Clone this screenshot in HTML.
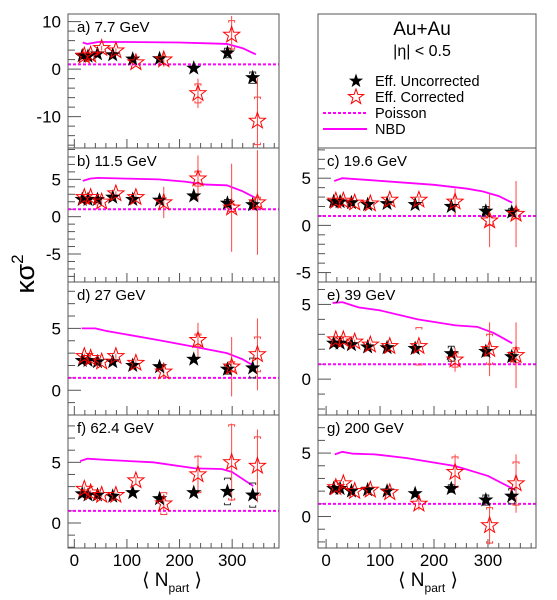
<!DOCTYPE html>
<html><head><meta charset="utf-8"><style>
html,body{margin:0;padding:0;background:#fff;}
svg{display:block;font-family:"Liberation Sans",sans-serif;}
</style></head><body>
<svg id="chart" width="557" height="600" viewBox="0 0 557 600" xmlns="http://www.w3.org/2000/svg">
<text transform="translate(34,274) rotate(-90)" text-anchor="middle" font-size="27">κσ<tspan font-size="17" dy="-11">2</tspan></text>
<g>
<rect x="318" y="14" width="218" height="134" fill="none" stroke="#555" stroke-width="1"/>
<text x="422" y="35" text-anchor="middle" font-size="19">Au+Au</text>
<text x="422" y="56" text-anchor="middle" font-size="16">|η| &lt; 0.5</text>
<g><path id="lgs1" fill="#000"/><text x="375" y="86" font-size="14.5">Eff. Uncorrected</text></g>
<g><path id="lgs2" fill="none" stroke="#f00"/><text x="375" y="102" font-size="14.5">Eff. Corrected</text></g>
<g><line x1="323" y1="113" x2="367" y2="113" stroke="#f0f" stroke-width="2" stroke-dasharray="3,2"/><text x="375" y="118" font-size="14.5">Poisson</text></g>
<g><line x1="323" y1="129" x2="367" y2="129" stroke="#f0f" stroke-width="2"/><text x="375" y="134" font-size="14.5">NBD</text></g>
</g>
<g id="panels"></g>
<text x="172" y="586" text-anchor="middle" font-size="19">⟨ N<tspan font-size="12" dy="6">part</tspan><tspan dy="-6"> ⟩</tspan></text>
<text x="428" y="586" text-anchor="middle" font-size="19">⟨ N<tspan font-size="12" dy="6">part</tspan><tspan dy="-6"> ⟩</tspan></text>
</svg>
<script>
// ---- data ----
const leftBlackN=[15,26,44,73,111,162,227,291,339];
const leftRedN=[19,31,52,79,117,170,235,299,348];
const rightBlackN=[14,26,47,77,113,165,232,296,344];
const rightRedN=[18,32,53,82,118,172,239,303,352];
const poissonValue=1;

const aBlack=[2.8,2.7,3.2,3.0,2.1,2.2,0.2,3.4,-1.8];
const aRed=[2.8,3.0,4.4,3.9,1.4,2.0,-5.1,7.2,-10.9];
const aRedErr=[0.3,0.3,0.5,0.5,0.6,1.5,3.1,4.0,9.0];
const aRedSys=[0,0,0,0,0,0,2.0,3.0,5.0];
const aBlackSys=[0,0,0,0,0,0,0,1.0,1.2];
const aNbdN=[16,25,45,100,200,260,290,320,345];
const aNbdV=[5.6,5.3,5.7,5.7,5.6,5.4,5.3,4.4,3.1];

const bBlack=[2.3,2.3,2.3,2.6,2.3,2.2,2.77,1.8,1.6];
const bRed=[2.6,2.6,2.0,3.1,2.6,1.9,5.1,1.2,1.9];
const bRedErr=[0.2,0.2,0.3,0.3,0.5,2.1,3.1,5.9,7.0];
const bRedSys=[0,0,0,0,0,0,1.0,0.5,0.7];
const bBlackSys=[0,0,0,0,0,0,0,0.5,0.5];
const bNbdN=[16,30,45,100,160,210,250,290,320,345];
const bNbdV=[4.8,5.1,5.2,5.1,5.0,4.7,4.3,4.2,3.4,2.5];

const cBlack=[2.5,2.5,2.4,2.2,2.3,2.2,2.0,1.5,1.4];
const cRed=[2.6,2.6,2.4,2.3,2.7,2.7,2.5,0.5,1.2];
const cRedErr=[0.2,0.2,0.2,0.2,0.3,0.4,1.4,2.8,3.5];
const cRedSys=[0,0,0,0,0,0,0,0.5,0.5];
const cBlackSys=[0,0,0,0,0,0,0,0.5,0.4];
const cNbdN=[15,30,80,200,260,290,320,345];
const cNbdV=[4.7,5.0,4.8,4.3,3.9,3.6,3.1,2.4];

const dBlack=[2.4,2.4,2.3,2.3,2.0,1.9,2.5,1.7,1.8];
const dRed=[2.75,2.6,2.3,2.75,2.2,1.5,4.05,1.9,2.9];
const dRedErr=[0.2,0.2,0.2,0.2,0.3,0.6,1.4,2.4,2.9];
const dRedSys=[0,0,0,0,0,0,0.5,0.4,1.4];
const dBlackSys=[0,0,0,0,0,0,0,0.4,0.8];
const dNbdN=[14,40,60,160,230,290,320,340];
const dNbdV=[5.0,5.0,4.8,4.05,3.5,3.0,2.5,2.0];

const eBlack=[2.4,2.4,2.3,2.15,2.1,2.05,1.7,1.85,1.5];
const eRed=[2.65,2.65,2.5,2.3,2.2,2.2,1.3,2.0,1.6];
const eRedErr=[0.15,0.15,0.15,0.15,0.2,0.3,0.8,1.8,2.2];
const eRedSys=[0,0,0,0,0,1.25,0.5,1.0,0.5];
const eBlackSys=[0,0,0,0,0,0,0.5,0.3,0.3];
const eNbdN=[12,30,60,100,170,240,280,310,345];
const eNbdV=[5.1,5.15,4.8,4.6,4.0,3.6,3.5,3.1,2.4];

const fBlack=[2.4,2.3,2.3,2.2,2.5,2.0,2.5,2.6,2.3];
const fRed=[2.8,2.5,2.3,2.3,3.5,1.6,4.0,5.0,4.7];
const fRedErr=[0.2,0.2,0.2,0.2,0.3,0.6,1.6,3.2,3.0];
const fRedSys=[0,0,0,0,0,0.9,1.5,3.1,2.4];
const fBlackSys=[0,0,0,0,0,0,0,1.1,1.0];
const fNbdN=[11,25,60,150,230,280,300,340];
const fNbdV=[5.1,5.3,5.2,5.0,4.5,4.45,4.2,3.05];

const gBlack=[2.2,2.2,2.0,2.1,2.0,1.8,2.2,1.3,1.6];
const gRed=[2.3,2.6,2.0,2.1,1.9,1.0,3.5,-0.7,2.6];
const gRedErr=[0.2,0.2,0.2,0.2,0.3,0.5,1.4,1.5,2.3];
const gRedSys=[0,0,0,0,0,0,1.2,1.4,1.7];
const gBlackSys=[0,0,0,0,0,0,0.3,0.4,0.6];
const gNbdN=[16,30,50,90,150,240,300,350];
const gNbdV=[4.9,5.1,4.95,4.9,4.6,3.97,3.2,2.1];

const xTickLabels=[0,100,200,300];

// ---- layout ----
const NS="http://www.w3.org/2000/svg";
const root=document.getElementById('panels');
function el(tag,attrs,parent){const e=document.createElementNS(NS,tag);for(const k in attrs)e.setAttribute(k,attrs[k]);(parent||root).appendChild(e);return e;}
function starPath(cx,cy,r){let d='';for(let i=0;i<10;i++){const rr=i%2?r*0.4:r;const a=-Math.PI/2+i*Math.PI/5;d+=(i?'L':'M')+(cx+rr*Math.cos(a)).toFixed(2)+','+(cy+rr*Math.sin(a)).toFixed(2);}return d+'Z';}
document.getElementById('lgs1').setAttribute('d',starPath(356,81,7.5));
document.getElementById('lgs2').setAttribute('d',starPath(356,97,8));

const panels=[
 {id:'a',label:'a) 7.7 GeV',x0:68,x1:279,y0:14,y1:148,ymin:-16.6,ymax:11.6,maj:[10,0,-10],minor:2,col:'L',black:aBlack,red:aRed,rerr:aRedErr,rsys:aRedSys,bsys:aBlackSys,nn:aNbdN,nv:aNbdV,xl:false},
 {id:'b',label:'b) 11.5 GeV',x0:68,x1:279,y0:148,y1:282,ymin:-8.75,ymax:9.2,maj:[5,0,-5],minor:1,col:'L',black:bBlack,red:bRed,rerr:bRedErr,rsys:bRedSys,bsys:bBlackSys,nn:bNbdN,nv:bNbdV,xl:false},
 {id:'c',label:'c) 19.6 GeV',x0:318,x1:536,y0:148,y1:282,ymin:-6.0,ymax:8.2,maj:[5,0,-5],minor:1,col:'R',black:cBlack,red:cRed,rerr:cRedErr,rsys:cRedSys,bsys:cBlackSys,nn:cNbdN,nv:cNbdV,xl:false},
 {id:'d',label:'d) 27 GeV',x0:68,x1:279,y0:282,y1:415,ymin:-2.0,ymax:8.75,maj:[5,0],minor:1,col:'L',black:dBlack,red:dRed,rerr:dRedErr,rsys:dRedSys,bsys:dBlackSys,nn:dNbdN,nv:dNbdV,xl:false},
 {id:'e',label:'e) 39 GeV',x0:318,x1:536,y0:282,y1:415,ymin:-2.4,ymax:6.5,maj:[5,0],minor:1,col:'R',black:eBlack,red:eRed,rerr:eRedErr,rsys:eRedSys,bsys:eBlackSys,nn:eNbdN,nv:eNbdV,xl:false},
 {id:'f',label:'f) 62.4 GeV',x0:68,x1:279,y0:415,y1:548,ymin:-2.06,ymax:8.9,maj:[5,0],minor:1,col:'L',black:fBlack,red:fRed,rerr:fRedErr,rsys:fRedSys,bsys:fBlackSys,nn:fNbdN,nv:fNbdV,xl:true},
 {id:'g',label:'g) 200 GeV',x0:318,x1:536,y0:415,y1:548,ymin:-2.48,ymax:8.0,maj:[5,0],minor:1,col:'R',black:gBlack,red:gRed,rerr:gRedErr,rsys:gRedSys,bsys:gBlackSys,nn:gNbdN,nv:gNbdV,xl:true}
];

panels.forEach(p=>{
 const xmin=p.col==='L'?-12:-15, xmax=389;
 const X=v=>p.x0+(v-xmin)/(xmax-xmin)*(p.x1-p.x0);
 const Y=v=>p.y1-(v-p.ymin)/(p.ymax-p.ymin)*(p.y1-p.y0);
 const bN=p.col==='L'?leftBlackN:rightBlackN;
 const rN=p.col==='L'?leftRedN:rightRedN;
 const g=el('g',{});
 
 
 const cp=el('clipPath',{id:'clip'+p.id},g);
 el('rect',{x:p.x0,y:p.y0,width:p.x1-p.x0,height:p.y1-p.y0},cp);
 // y ticks
 for(let v=Math.ceil(p.ymin/p.minor)*p.minor;v<=p.ymax;v+=p.minor){
  const isMaj=Math.abs(v%5)<1e-6 && (p.id!=='a'||Math.abs(v%10)<1e-6);
  el('line',{x1:p.x0,x2:p.x0+(isMaj?13:7),y1:Y(v),y2:Y(v),stroke:'#555','stroke-width':1},g);
 }
 p.maj.forEach(v=>{
  const t=el('text',{x:p.x0-7,y:Y(v)+6,'text-anchor':'end','font-size':17},g);
  t.textContent=v;
  
  
 });
 // x ticks
 for(let v=0;v<=xmax;v+=20){
  const isMaj=v%100===0;
  el('line',{x1:X(v),x2:X(v),y1:p.y1,y2:p.y1-(isMaj?9:5),stroke:'#555','stroke-width':1},g);
 }
 if(p.xl){xTickLabels.forEach(v=>{
  const t=el('text',{x:X(v),y:p.y1+18,'text-anchor':'middle','font-size':17},g);
  t.textContent=v;
  
  
 });}
 const inner=el('g',{'clip-path':'url(#clip'+p.id+')'},g);
 // poisson
 const pl=el('line',{x1:p.x0,x2:p.x1,y1:Y(poissonValue),y2:Y(poissonValue),stroke:'#f0f','stroke-width':2,'stroke-dasharray':'3,2'},inner);
 
 
 // nbd
 const nb=el('polyline',{points:p.nn.map((n,i)=>X(n)+','+Y(p.nv[i])).join(' '),fill:'none',stroke:'#f0f','stroke-width':1.8},inner);
 
 
 // sys brackets
 function bracket(x,v,s,col){if(!s)return;const y1=Y(v+s),y2=Y(v-s);
  el('path',{d:`M${x-3},${y1+2}V${y1}H${x+3}V${y1+2}M${x-3},${y2-2}V${y2}H${x+3}V${y2-2}`,fill:'none',stroke:col,'stroke-width':1},inner);}
 p.black.forEach((v,i)=>bracket(X(bN[i]),v,p.bsys[i],'#333'));
 p.red.forEach((v,i)=>{
  const x=X(rN[i]);
  el('line',{x1:x,x2:x,y1:Y(v+p.rerr[i]),y2:Y(v-p.rerr[i]),stroke:'#f44','stroke-width':1},inner);
  bracket(x,v,p.rsys[i],'#f44');
 });
 p.black.forEach((v,i)=>{
  const s=el('path',{d:starPath(X(bN[i]),Y(v),8),fill:'#000'},inner);
  
  
 });
 p.red.forEach((v,i)=>{
  const s=el('path',{d:starPath(X(rN[i]),Y(v),8.5),fill:'none',stroke:'#f00','stroke-width':1},inner);
  
  
 });
 el('rect',{x:p.x0,y:p.y0,width:p.x1-p.x0,height:p.y1-p.y0,fill:'none',stroke:'#555','stroke-width':1},g);
 const lt=el('text',{x:p.x0+9,y:p.y0+18,'font-size':15},g);
 lt.textContent=p.label;
 
 
});
</script>
</body></html>
